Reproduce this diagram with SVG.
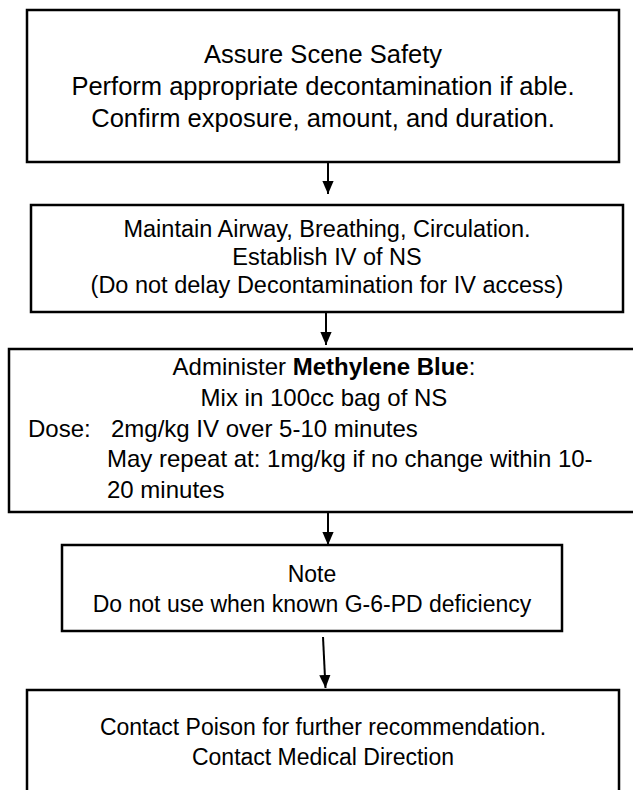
<svg xmlns="http://www.w3.org/2000/svg" width="633" height="790" viewBox="0 0 633 790">
<defs>
<style>
.box{fill:#fff;stroke:#000;stroke-width:2.5}
.t{font-family:"Liberation Sans",Arial,sans-serif;fill:#000}
.c{text-anchor:middle}
.f1{font-size:25.5px}
.f2{font-size:23.5px}
.f3{font-size:24px}
.f4{font-size:23px}
.con{stroke:#000;stroke-width:2;fill:none}
</style>
<marker id="ah" markerWidth="13" markerHeight="15" viewBox="0 0 15 13" refX="15" refY="6.5" orient="auto" markerUnits="userSpaceOnUse">
<path d="M0,0 L15,6.5 L0,13 Z" fill="#000"/>
</marker>
</defs>
<rect width="633" height="790" fill="#fff"/>
<g id="n1">
<rect class="box" x="27" y="10" width="592" height="152"/>
<text class="t c f1" x="323" y="63">Assure Scene Safety</text>
<text class="t c f1" x="323" y="95">Perform appropriate decontamination if able.</text>
<text class="t c f1" x="323" y="127">Confirm exposure, amount, and duration.</text>
</g>
<g id="n2">
<rect class="box" x="31" y="205" width="592" height="107"/>
<text class="t c f2" x="327" y="237">Maintain Airway, Breathing, Circulation.</text>
<text class="t c f2" x="327" y="265">Establish IV of NS</text>
<text class="t c f2" x="327" y="293">(Do not delay Decontamination for IV access)</text>
</g>
<g id="n3">
<rect class="box" x="9" y="349" width="640" height="163"/>
<text class="t c f3" x="324" y="375">Administer <tspan font-weight="bold">Methylene Blue</tspan>:</text>
<text class="t c f3" x="324" y="406">Mix in 100cc bag of NS</text>
<text class="t f3" x="28" y="437">Dose:</text>
<text class="t f3" x="111" y="437">2mg/kg IV over 5-10 minutes</text>
<text class="t f3" x="107" y="467">May repeat at: 1mg/kg if no change within 10-</text>
<text class="t f3" x="107" y="498">20 minutes</text>
</g>
<g id="n4">
<rect class="box" x="62" y="545" width="500" height="86"/>
<text class="t c f4" x="312" y="582">Note</text>
<text class="t c f4" x="312" y="612">Do not use when known G-6-PD deficiency</text>
</g>
<g id="n5">
<rect class="box" x="27" y="690" width="592" height="110"/>
<text class="t c f4" x="323" y="735">Contact Poison for further recommendation.</text>
<text class="t c f4" x="323" y="765">Contact Medical Direction</text>
</g>
<g id="connectors">
<line class="con" x1="328" y1="162" x2="328" y2="194" marker-end="url(#ah)"/>
<line class="con" x1="326" y1="312" x2="326" y2="345" marker-end="url(#ah)"/>
<line class="con" x1="328" y1="512" x2="328" y2="545" marker-end="url(#ah)"/>
<line class="con" x1="323" y1="637" x2="325.5" y2="688" marker-end="url(#ah)"/>
</g>
</svg>
